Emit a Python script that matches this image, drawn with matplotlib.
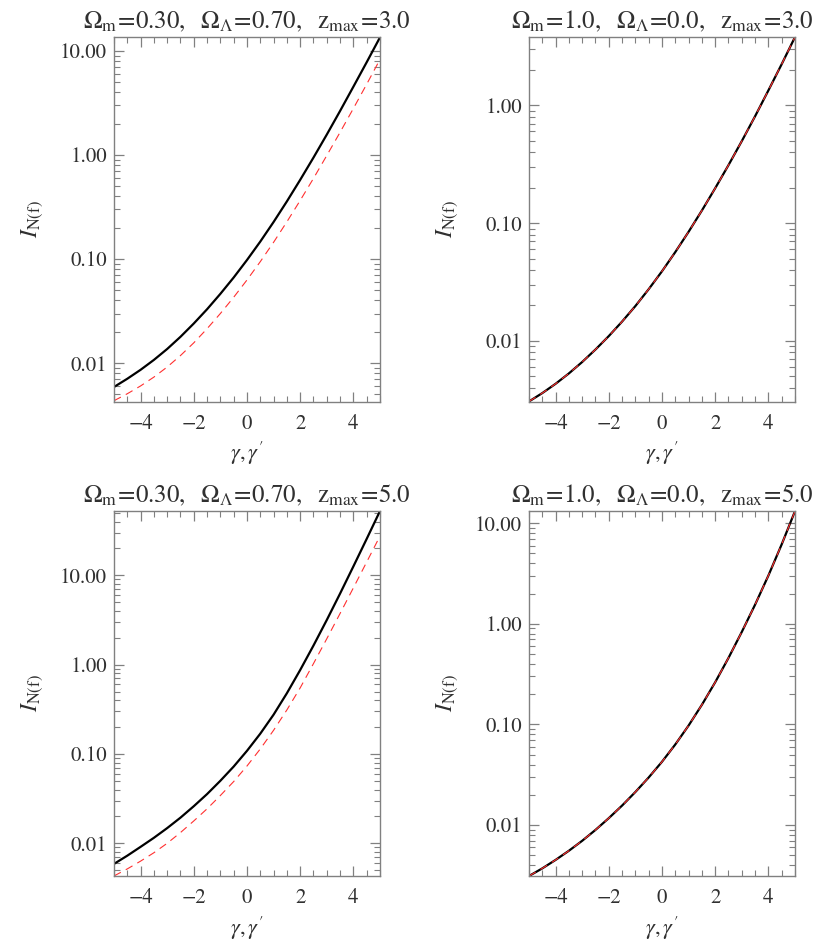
"""Four-panel I_N(f) versus gamma plots, IDL-like look."""

import matplotlib
matplotlib.use("Agg")
import matplotlib.pyplot as plt
from matplotlib.ticker import LogLocator, FixedLocator, FuncFormatter, NullFormatter
import numpy as np

# ---------------------------------------------------------------------------
# Data (gamma = -5 .. 5, step 0.5)
# ---------------------------------------------------------------------------

gamma = [-5.0, -4.5, -4.0, -3.5, -3.0, -2.5, -2.0, -1.5, -1.0, -0.5, 0.0,
         0.5, 1.0, 1.5, 2.0, 2.5, 3.0, 3.5, 4.0, 4.5, 5.0]

# Om=0.30, OL=0.70, zmax=3.0
lcdm_z3_solid = [0.00590, 0.00708, 0.00863, 0.01074, 0.01368, 0.01791, 0.02404,
                 0.03296, 0.04634, 0.0665, 0.0979, 0.1472, 0.2270, 0.3581,
                 0.5768, 0.944, 1.570, 2.649, 4.529, 7.780, 13.49]
lcdm_z3_dash  = [0.004355, 0.005082, 0.006039, 0.007345, 0.009183, 0.01183, 0.01567,
                 0.02143, 0.02999, 0.04295, 0.06295, 0.09441, 0.1449, 0.2280,
                 0.3656, 0.5957, 0.9886, 1.652, 2.799, 4.786, 8.279]

# Om=1.0, OL=0.0, zmax=3.0
eds_z3_solid  = [0.003062, 0.003606, 0.004325, 0.005297, 0.006622, 0.008453, 0.01099,
                 0.01459, 0.01977, 0.02748, 0.03899, 0.05675, 0.08433, 0.1279,
                 0.1977, 0.3105, 0.4966, 0.8072, 1.337, 2.234, 3.793]
eds_z3_dash   = [0.003062, 0.003606, 0.004325, 0.005297, 0.006622, 0.008453, 0.01099,
                 0.01459, 0.01977, 0.02748, 0.03899, 0.05675, 0.08433, 0.1279,
                 0.1977, 0.3105, 0.4966, 0.8072, 1.337, 2.234, 3.793]

# Om=0.30, OL=0.70, zmax=5.0
lcdm_z5_solid = [0.005875, 0.007261, 0.00912, 0.01151, 0.01479, 0.01936, 0.0260,
                 0.03556, 0.05012, 0.07228, 0.1084, 0.1687, 0.2754, 0.4786,
                 0.871, 1.637, 3.162, 6.252, 12.59, 25.59, 52.48]
lcdm_z5_dash  = [0.004305, 0.005164, 0.00631, 0.007834, 0.0100, 0.01318, 0.01778,
                 0.02432, 0.03428, 0.04909, 0.07328, 0.1138, 0.1841, 0.3112,
                 0.5495, 1.028, 1.950, 3.741, 7.244, 14.09, 27.54]

# Om=1.0, OL=0.0, zmax=5.0
eds_z5_solid  = [0.003119, 0.003715, 0.004508, 0.005559, 0.006982, 0.008954, 0.01172,
                 0.01563, 0.02133, 0.02972, 0.04256, 0.06324, 0.09750, 0.1567,
                 0.2624, 0.4581, 0.8299, 1.549, 3.013, 6.152, 13.15]
eds_z5_dash   = [0.003119, 0.003715, 0.004508, 0.005559, 0.006982, 0.008954, 0.01172,
                 0.01563, 0.02133, 0.02972, 0.04256, 0.06324, 0.09750, 0.1567,
                 0.2624, 0.4581, 0.8299, 1.549, 3.013, 6.152, 13.15]

titles = [
    r"$\Omega_{\rm m}\!=\!0.30,\ \ \Omega_{\Lambda}\!=\!0.70,\ \ {\rm z}_{\rm max}\!=\!3.0$",
    r"$\Omega_{\rm m}\!=\!1.0,\ \ \Omega_{\Lambda}\!=\!0.0,\ \ {\rm z}_{\rm max}\!=\!3.0$",
    r"$\Omega_{\rm m}\!=\!0.30,\ \ \Omega_{\Lambda}\!=\!0.70,\ \ {\rm z}_{\rm max}\!=\!5.0$",
    r"$\Omega_{\rm m}\!=\!1.0,\ \ \Omega_{\Lambda}\!=\!0.0,\ \ {\rm z}_{\rm max}\!=\!5.0$",
]
ylims = [(0.00428, 13.6), (0.00306, 3.8), (0.0043, 52.5), (0.00312, 13.2)]
series = [
    (lcdm_z3_solid, lcdm_z3_dash),
    (eds_z3_solid, eds_z3_dash),
    (lcdm_z5_solid, lcdm_z5_dash),
    (eds_z5_solid, eds_z5_dash),
]

TXT = "#303030"
AXC = "#808080"

plt.rcParams["mathtext.fontset"] = "stix"
plt.rcParams["font.family"] = ["STIXGeneral", "DejaVu Serif"]

fig = plt.figure(figsize=(8.30, 9.49), dpi=100)

# axes boxes in figure fractions (left, bottom, width, height)
boxes = [
    (0.1373, 0.5769, 0.3205, 0.3841),
    (0.6373, 0.5769, 0.3205, 0.3841),
    (0.1373, 0.0769, 0.3205, 0.3846),
    (0.6373, 0.0769, 0.3205, 0.3846),
]

for box, title, (solid, dash), ylim in zip(boxes, titles, series, ylims):
    ax = fig.add_axes(box)
    ax.set_yscale("log")
    ax.plot(gamma, solid, color="black", lw=1.6)
    ax.plot(gamma, dash, color="#ff3030", lw=0.8, dashes=(7, 5))
    ax.set_xlim(-5, 5)
    ax.set_ylim(*ylim)

    ax.xaxis.set_major_locator(FixedLocator([-4, -2, 0, 2, 4]))
    ax.xaxis.set_minor_locator(FixedLocator(np.arange(-5, 5.01, 0.5)))
    ax.yaxis.set_major_locator(LogLocator(base=10, numticks=10))
    ax.yaxis.set_minor_locator(LogLocator(base=10, subs=np.arange(2, 10), numticks=20))
    ax.yaxis.set_major_formatter(FuncFormatter(lambda v, p: f"{v:.2f}"))
    ax.yaxis.set_minor_formatter(NullFormatter())
    ax.xaxis.set_major_formatter(FuncFormatter(lambda v, p: f"{v:.0f}".replace("-", "\u2212")))

    ax.tick_params(which="both", direction="in", top=True, right=True,
                   color=AXC, labelcolor=TXT, labelsize=15)
    ax.tick_params(which="major", length=7, width=0.9)
    ax.tick_params(which="minor", length=4, width=0.8)
    ax.tick_params(axis="x", pad=9)
    ax.tick_params(axis="y", pad=5)
    for sp in ax.spines.values():
        sp.set_color(AXC)
        sp.set_linewidth(1.0)

    ax.set_title(title, fontsize=18, color=TXT, pad=6)
    ax.set_xlabel(r"$\gamma,\gamma'$", fontsize=16, color=TXT)
    ax.set_ylabel(r"$I_{\rm N(f)}$", fontsize=17, color=TXT)
    ax.xaxis.set_label_coords(0.5, -0.105)
    ax.yaxis.set_label_coords(-0.26, 0.5)

fig.savefig("out.png", dpi=100)
